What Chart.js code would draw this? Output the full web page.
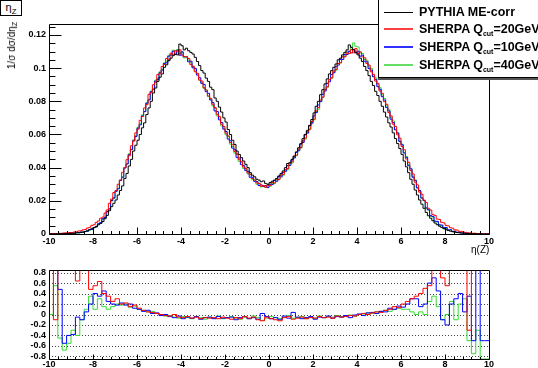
<!DOCTYPE html>
<html><head><meta charset="utf-8">
<script src="https://cdn.jsdelivr.net/npm/chart.js@4.4.1/dist/chart.umd.min.js"></script>
<style>
html,body{margin:0;padding:0;background:#fff;width:538px;height:368px;overflow:hidden;font-family:"Liberation Sans",Arial,Helvetica,sans-serif;}
canvas{position:absolute;left:0;}
#top{top:0;}
#bot{top:260px;}
.lab{position:absolute;white-space:nowrap;color:#000;line-height:1;}
#etabox{left:0;top:0;width:20px;height:14px;border:1px solid #000;background:#fff;font-size:11px;text-align:center;}
#etabox span{display:inline-block;margin-top:1px;}
sub{font-size:70%;vertical-align:-3px;line-height:0;}
#ytitle{left:7px;top:22px;font-size:10px;writing-mode:vertical-rl;transform:rotate(180deg);}
#xtitle{left:471px;top:245px;font-size:10px;}
#legend{position:absolute;left:378px;top:-1px;width:180px;height:77px;border:1px solid #000;background:#fff;box-shadow:0 2px 0 #555;}
.row{position:absolute;left:0;height:14px;width:180px;}
.row .ln{position:absolute;left:5px;top:6px;width:29px;height:2px;}
.row .tx{position:absolute;left:40px;top:0;font-size:12.5px;font-weight:bold;line-height:14px;white-space:nowrap;}
.row .tx sub{font-size:7px;vertical-align:-3px;font-weight:bold;}
</style>
</head><body>
<canvas id="top" width="538" height="260"></canvas>
<canvas id="bot" width="538" height="108"></canvas>
<div class="lab" id="etabox"><span>η<sub>Z</sub></span></div>
<div class="lab" id="ytitle">1/σ dσ/dη<sub>Z</sub></div>
<div class="lab" id="xtitle">η(Z)</div>
<div id="legend">
  <div class="row" style="top:5px"><div class="ln" style="background:#000000;height:1px;top:7px"></div><div class="tx">PYTHIA ME-corr</div></div>
  <div class="row" style="top:22px"><div class="ln" style="background:#ff4040"></div><div class="tx">SHERPA Q<sub>cut</sub>=20GeV</div></div>
  <div class="row" style="top:40px"><div class="ln" style="background:#3030ff"></div><div class="tx">SHERPA Q<sub>cut</sub>=10GeV</div></div>
  <div class="row" style="top:58px"><div class="ln" style="background:#66dd66"></div><div class="tx">SHERPA Q<sub>cut</sub>=40GeV</div></div>
</div>
<script>
// ---- axis definitions ----
const X_MIN = -10, X_MAX = 10;
const X_TICKS = [-10,-8,-6,-4,-2,0,2,4,6,8,10];
const X_LABELS = ["-10","-8","-6","-4","-2","0","2","4","6","8","10"];
const Y_TOP_TICKS = [0,0.02,0.04,0.06,0.08,0.1,0.12];
const Y_TOP_LABELS = ["0","0.02","0.04","0.06","0.08","0.1","0.12"];
const Y_BOT_TICKS = [-0.8,-0.6,-0.4,-0.2,0,0.2,0.4,0.6,0.8];
const Y_BOT_LABELS = ["-0.8","-0.6","-0.4","-0.2","0","0.2","0.4","0.6","0.8"];
const SERIES_NAMES = ["PYTHIA ME-corr","SHERPA Qcut=20GeV","SHERPA Qcut=10GeV","SHERPA Qcut=40GeV"];

// ---- top panel: 1/sigma dsigma/deta, 200 bins of 0.1, values in units of 1e-4 ----
const PYTHIA = [
0,0,1,1,1,2,2,2,3,3, 4,4,5,7,8,10,12,15,20,26,
32,38,46,55,64,75,92,112,140,165, 185,205,235,262,290,335,365,410,450,500,
535,565,600,640,670,720,760,800,850,880, 920,945,965,1005,1020,1045,1060,1075,1085,1080,
1145,1135,1110,1120,1105,1095,1085,1065,1040,1015, 985,970,940,920,885,870,820,800,765,735,
700,675,630,600,565,540,500,480,460,440, 420,400,370,355,345,330,325,315,320,305,
300,310,318,325,335,350,365,380,400,425, 430,450,470,495,520,545,575,600,625,655,
690,730,770,800,840,870,905,935,965,985, 1005,1025,1050,1060,1080,1095,1110,1140,1125,1110,
1095,1080,1060,1040,1010,985,955,920,895,860, 835,800,770,735,705,670,645,610,575,545,
515,480,440,405,370,330,300,265,235,205, 180,155,130,110,95,80,66,56,47,40,
32,26,21,17,14,11,9,7,6,5, 4,3,3,2,2,1,1,1,0,0
];
const SHERPA20 = [
1,1,2,3,2,4,4,5,7,6, 9,8,12,13,18,19,25,27,36,40,
52,56,70,78,95,102,126,145,185,210, 250,262,300,325,372,400,448,472,532,560,
610,632,685,708,760,780,842,852,900,915, 962,968,1010,1022,1058,1050,1090,1080,1105,1098,
1110,1078,1070,1068,1058,1022,1012,978,968,928, 922,882,868,832,818,782,762,722,708,662,
648,608,592,552,538,498,482,448,436,404, 395,368,360,335,325,308,305,288,292,282,
295,292,310,308,332,328,356,360,388,395, 428,435,468,475,512,522,562,578,618,632,
678,692,742,762,808,826,872,888,932,942, 982,992,1028,1032,1068,1068,1092,1088,1112,1092,
1118,1088,1098,1068,1062,1028,1018,978,962,922, 908,862,848,798,782,732,712,662,648,598,
578,528,508,452,432,382,362,312,296,252, 240,204,190,155,145,118,112,90,88,70,
67,52,49,38,35,25,24,16,16,11, 10,6,7,4,5,2,3,1,2,1
];
const SHERPA10 = [
0,1,0,2,1,3,2,4,3,5, 4,6,5,9,8,12,11,16,17,26,
28,39,43,62,68,92,100,136,152,202, 218,258,272,322,342,398,422,478,508,562,
588,638,658,712,738,788,808,858,872,922, 932,972,988,1028,1032,1072,1078,1102,1082,1108,
1078,1098,1068,1068,1038,1042,1002,998,958,942, 908,902,858,848,808,792,742,738,688,672,
632,618,572,562,518,508,462,458,418,412, 382,378,342,342,318,316,292,296,288,292,
280,300,298,322,318,346,344,372,378,412, 414,446,458,492,502,542,552,598,608,652,
668,712,732,778,798,842,862,908,918,962, 972,1008,1018,1052,1052,1082,1082,1102,1092,1112,
1092,1102,1072,1078,1042,1038,998,988,948,932, 888,872,828,808,762,742,692,672,628,608,
558,538,488,462,412,392,342,322,278,262, 218,202,158,146,112,106,78,76,56,54,
38,39,25,26,16,17,10,11,6,7, 3,5,2,3,1,2,0,1,0,1
];
const SHERPA40 = [
0,0,1,0,2,1,2,3,2,4, 3,5,4,6,6,8,9,14,15,24,
26,38,41,60,64,90,97,132,148,198, 214,256,274,326,344,400,424,484,512,568,
592,644,664,718,738,792,812,862,878,928, 938,978,992,1032,1042,1078,1082,1108,1098,1112,
1088,1098,1062,1062,1048,1032,1008,988,968,928, 912,878,868,828,812,772,758,712,698,652,
638,598,588,542,528,488,478,438,432,395, 390,362,358,328,326,300,306,284,286,282,
296,288,306,304,326,328,352,354,382,388, 422,428,462,472,508,518,558,572,612,628,
672,688,738,752,802,822,868,882,928,938, 982,988,1028,1032,1068,1072,1102,1098,1128,1152,
1132,1128,1092,1088,1052,1048,1008,998,952,942, 898,882,838,818,772,752,702,682,632,612,
562,542,492,468,418,396,348,326,278,260, 214,200,154,144,106,102,74,72,52,50,
36,36,22,24,14,16,9,10,5,6, 3,4,1,3,1,1,0,1,0,0
];
const TOP_UNIT = 1e-4;

// ---- bottom panel: (SHERPA - PYTHIA)/PYTHIA, 100 bins of 0.2 ----
const RATIO20 = [
0.85,0.85,-0.1,0.85,0.85,0.85,0.85,0.64,0.85,0.85,0.48,0.55,0.63,0.4,0.35,0.25,0.3,0.2,
0.22,0.15,0.18,0.12,0.08,0.05,0.04,0.02,0.0,-0.02,-0.03,0.0,-0.05,-0.06,-0.04,-0.07,-0.05,-0.08,-0.06,-0.07,-0.06,-0.08,-0.05,-0.07,-0.09,-0.06,-0.08,-0.04,-0.07,-0.05,-0.1,-0.12,-0.05,-0.08,-0.1,-0.12,-0.06,-0.04,-0.09,-0.07,-0.05,-0.08,-0.06,-0.07,-0.04,-0.06,-0.05,-0.07,-0.03,-0.05,-0.04,-0.02,-0.03,0.0,0.02,0.0,0.03,0.05,0.04,0.08,0.1,0.15,0.13,0.2,
0.25,0.3,0.35,0.4,0.5,0.55,0.85,0.85,0.7,0.55,0.85,0.85,0.85,0.85,-0.3,0.85,0.85,0.85
];
const RATIO10 = [
-0.5,0.85,0.85,0.48,-0.55,-0.4,-0.38,-0.05,-0.1,0.05,0.2,0.4,0.35,0.45,0.25,0.2,0.18,0.22,
0.18,0.2,0.12,0.1,0.06,0.08,0.02,0.03,-0.02,0.0,-0.04,-0.06,-0.03,-0.08,-0.05,-0.07,-0.04,-0.09,-0.06,-0.05,-0.08,-0.04,-0.07,-0.06,-0.05,-0.1,-0.06,-0.04,-0.08,-0.06,-0.09,0.02,-0.04,-0.08,-0.06,-0.1,-0.03,-0.07,0.04,-0.05,-0.08,-0.06,-0.04,-0.09,-0.05,-0.06,-0.03,-0.07,-0.04,-0.05,-0.02,-0.06,-0.01,0.01,-0.02,0.03,0.04,0.02,0.06,0.05,0.12,0.1,0.16,0.14,
0.2,0.3,0.3,0.15,0.2,0.6,0.7,0.45,-0.1,-0.2,0.2,0.3,0.4,0.05,0.35,-0.5,0.85,-0.5
];
const RATIO40 = [
-0.8,0.0,0.55,-0.45,-0.68,-0.55,-0.3,-0.4,-0.1,0.1,0.35,0.1,0.3,0.15,0.1,0.15,0.2,0.18,
0.2,0.14,0.16,0.1,0.08,0.05,0.06,0.02,0.0,-0.03,-0.02,-0.05,-0.07,-0.04,-0.06,-0.08,-0.05,-0.06,-0.09,-0.05,-0.07,-0.03,-0.08,-0.06,-0.04,-0.07,-0.09,-0.05,-0.08,-0.03,-0.06,-0.11,-0.07,-0.04,-0.06,-0.08,-0.05,-0.02,-0.07,-0.06,-0.04,-0.08,-0.05,-0.07,-0.03,-0.06,-0.04,-0.05,-0.02,-0.04,-0.03,-0.01,-0.03,0.0,0.01,0.03,0.02,0.05,0.06,0.08,0.06,0.1,0.12,0.1,
0.1,0.05,0.0,0.05,0.0,0.25,0.35,0.15,-0.1,0.0,0.25,-0.1,0.2,0.3,-0.5,-0.75,-0.3,-0.85
];

const COLORS = ["#000000","#ff0000","#0000ff","#33dd33"];

// histogram outline points: one point at each bin's low edge plus the upper edge
function histPoints(vals, unit){
  const n = vals.length, w = (X_MAX - X_MIN)/n;
  const pts = vals.map((v,i)=>({x: X_MIN + i*w, y: v*unit}));
  pts.push({x: X_MAX, y: vals[n-1]*unit});
  return pts;
}
function ds(vals, unit, color){
  return {data: histPoints(vals, unit), borderColor: color, borderWidth: 1, stepped: 'after',
          pointRadius: 0, fill: false, tension: 0};
}

const FONT = {family: "'Liberation Sans', Arial, sans-serif", size: 9, weight: 'bold'};

const rootFrame = {
  id: 'rootFrame',
  beforeDatasetsDraw(chart, args, o){
    if (!o.dotted) return;
    const {ctx, chartArea: a, scales: {y}} = chart;
    ctx.save();
    ctx.strokeStyle = '#444'; ctx.lineWidth = 1; ctx.setLineDash([1,2]);
    o.dotted.forEach(v=>{
      const py = Math.round(y.getPixelForValue(v)) + 0.5;
      ctx.beginPath(); ctx.moveTo(a.left, py); ctx.lineTo(a.right, py); ctx.stroke();
    });
    ctx.restore();
  },
  afterDatasetsDraw(chart, args, o){
    const {ctx, chartArea: a, scales: {x, y}} = chart;
    ctx.save();
    ctx.strokeStyle = '#000'; ctx.lineWidth = 1;
    const L = Math.round(a.left)+0.5, R = Math.round(a.right)+0.5, T = Math.round(a.top)+0.5, B = Math.round(a.bottom)+0.5;
    ctx.beginPath(); ctx.rect(L, T, R-L, B-T); ctx.stroke();
    ctx.beginPath();
    for (let k = 0; k <= 50; k++){
      const v = X_MIN + k*0.4;
      const major = (k % 5 === 0);
      const px = Math.round(x.getPixelForValue(v)) + 0.5;
      ctx.moveTo(px, B); ctx.lineTo(px, B - (major ? o.xMajor : o.xMinor));
    }
    const yMin = y.min, yMax = y.max;
    const n = Math.floor((yMax - o.yStart)/o.yMinorStep + 1e-6);
    for (let k = 0; k <= n; k++){
      const v = o.yStart + k*o.yMinorStep;
      if (v < yMin - 1e-9) continue;
      const major = (k % o.yDiv === 0);
      const py = Math.round(y.getPixelForValue(v)) + 0.5;
      ctx.moveTo(L, py); ctx.lineTo(L + (major ? o.yMajor : o.yMinor), py);
    }
    ctx.stroke();
    ctx.restore();
  }
};

function makeChart(id, datasets, yMin, yMax, yTicks, yLabels, padTop, xHeight, xPad, frameOpts){
  return new Chart(document.getElementById(id), {
    type: 'line',
    data: {datasets},
    options: {
      responsive: false, animation: false, events: [],
      layout: {padding: {left: 0, right: 49, top: padTop, bottom: 0}, autoPadding: false},
      plugins: {legend: {display: false}, tooltip: {enabled: false}, rootFrame: frameOpts},
      scales: {
        x: {type: 'linear', min: X_MIN, max: X_MAX,
            afterBuildTicks: s => { s.ticks = X_TICKS.map(v => ({value: v})); },
            afterFit: s => { s.height = xHeight; },
            ticks: {callback: (v, i) => X_LABELS[i], autoSkip: false, maxRotation: 0, minRotation: 0,
                    font: FONT, color: '#000', padding: xPad},
            grid: {display: false, drawTicks: false}, border: {display: false}},
        y: {type: 'linear', min: yMin, max: yMax,
            afterBuildTicks: s => { s.ticks = yTicks.map(v => ({value: v})); },
            afterFit: s => { s.width = 49; },
            ticks: {callback: (v, i) => yLabels[i], autoSkip: false, font: FONT, color: '#000', padding: 3},
            grid: {display: false, drawTicks: false}, border: {display: false}}
      }
    },
    plugins: [rootFrame]
  });
}

makeChart('top', [
  ds(PYTHIA, TOP_UNIT, COLORS[0]),
  ds(SHERPA20, TOP_UNIT, COLORS[1]),
  ds(SHERPA10, TOP_UNIT, COLORS[2]),
  ds(SHERPA40, TOP_UNIT, COLORS[3])
], 0, 0.1266, Y_TOP_TICKS, Y_TOP_LABELS, 24, 26, 2,
  {xMajor: 7, xMinor: 3.5, yStart: 0, yMinorStep: 0.005, yDiv: 4, yMajor: 12, yMinor: 6});

makeChart('bot', [
  ds(RATIO20, 1, COLORS[1]),
  ds(RATIO10, 1, COLORS[2]),
  ds(RATIO40, 1, COLORS[3])
], -0.85, 0.85, Y_BOT_TICKS, Y_BOT_LABELS, 10, 9, 0,
  {xMajor: 5, xMinor: 2.5, yStart: -0.8, yMinorStep: 0.2, yDiv: 1, yMajor: 0, yMinor: 0,
   dotted: Y_BOT_TICKS});
</script>
</body></html>
